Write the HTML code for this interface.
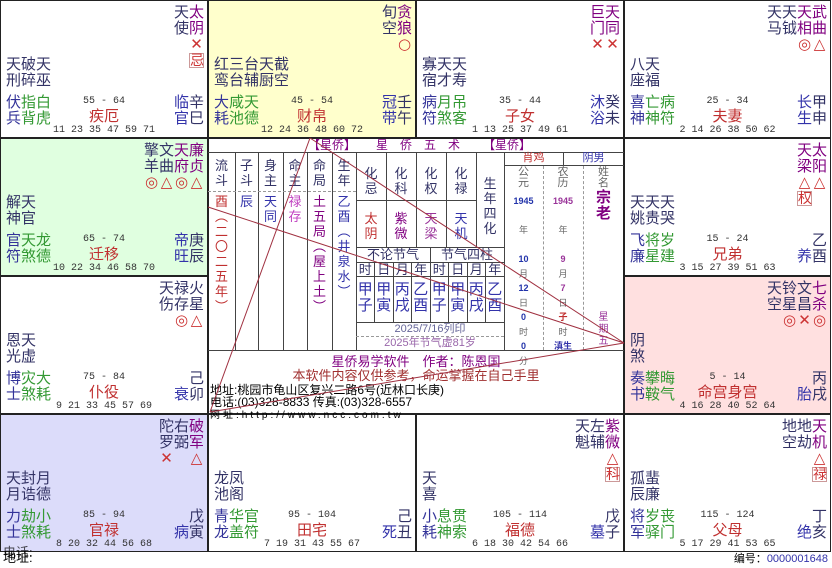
<!DOCTYPE html>
<html><head><meta charset="utf-8">
<style>
*{margin:0;padding:0;box-sizing:border-box}
body{width:832px;height:568px;background:#fff;position:relative;overflow:hidden;font-family:"Liberation Sans","Noto Sans CJK SC",sans-serif;color:#333366}
.cell{position:absolute;width:208px;height:138px;border:1px solid #222;font-size:15px}
.ms{position:absolute;right:3px;top:4px;display:flex;flex-direction:row-reverse;align-items:flex-start}
.k{width:15px;text-align:center;line-height:16px;color:#333366}
.k.p{color:#800080}
.s{color:#cc3333;display:block;font-family:"DejaVu Sans",sans-serif;font-size:15px;line-height:15px;height:15px}
.hb{display:block;border:1px solid #c99;color:#cc3333;background:#fff;line-height:13px;font-size:14px;width:15px;margin-top:1px}
.mn{position:absolute;left:5px;top:56px;line-height:16px;color:#333366}
.bl{position:absolute;left:5px;top:94px;line-height:16px;color:#333399}
.bl g{color:#339933}
.br{position:absolute;right:3px;top:94px;line-height:16px;color:#333366;text-align:right}
.br b{font-weight:normal;color:#3333aa}
.rg{position:absolute;left:0;width:100%;text-align:center;top:96px;font:10px/10px "Liberation Mono",monospace;color:#333}
.pn{position:absolute;left:0;width:100%;text-align:center;top:108px;line-height:16px;color:#c03030}
.ag{position:absolute;left:0;width:100%;text-align:center;top:125px;font:10px/10px "Liberation Mono",monospace;color:#333}
.a{position:absolute}
.vl{position:absolute;width:1px;background:#444}
.hl{position:absolute;height:1px;background:#444}
.vt{position:absolute;text-align:center;line-height:15px;font-size:13px}
.sm{font-size:11px;line-height:13px}
</style></head><body>

<div class="cell" style="left:0;top:0">
<div class="ms"><div class="k p">太<br>阴<span class="s">✕</span><span class="hb">忌</span></div><div class="k">天<br>使</div></div>
<div class="mn">天破天<br>刑碎巫</div>
<div class="bl">伏<g>指白</g><br>兵<g>背虎</g></div>
<div class="br"><b>临</b>辛<br><b>官</b>巳</div>
<div class="rg">55 - 64</div><div class="pn">疾厄</div><div class="ag">11 23 35 47 59 71</div>
</div>
<div class="cell" style="left:208px;top:0;background:#ffffcc">
<div class="ms"><div class="k p">贪<br>狼<span class="s">○</span></div><div class="k">旬<br>空</div></div>
<div class="mn">红三台天截<br>鸾台辅厨空</div>
<div class="bl">大<g>咸天</g><br>耗<g>池德</g></div>
<div class="br"><b>冠</b>壬<br><b>带</b>午</div>
<div class="rg">45 - 54</div><div class="pn">财帛</div><div class="ag">12 24 36 48 60 72</div>
</div>
<div class="cell" style="left:416px;top:0">
<div class="ms"><div class="k p">天<br>同<span class="s">✕</span></div><div class="k p">巨<br>门<span class="s">✕</span></div></div>
<div class="mn">寡天天<br>宿才寿</div>
<div class="bl">病<g>月吊</g><br>符<g>煞客</g></div>
<div class="br"><b>沐</b>癸<br><b>浴</b>未</div>
<div class="rg">35 - 44</div><div class="pn">子女</div><div class="ag">1 13 25 37 49 61</div>
</div>
<div class="cell" style="left:624px;top:0;width:207px">
<div class="ms"><div class="k p">武<br>曲<span class="s">△</span></div><div class="k p">天<br>相<span class="s">◎</span></div><div class="k">天<br>钺</div><div class="k">天<br>马</div></div>
<div class="mn">八天<br>座福</div>
<div class="bl">喜<g>亡病</g><br>神<g>神符</g></div>
<div class="br"><b>长</b>甲<br><b>生</b>申</div>
<div class="rg">25 - 34</div><div class="pn">夫妻</div><div class="ag">2 14 26 38 50 62</div>
</div>

<div class="cell" style="left:0;top:138px;background:#e0ffe0">
<div class="ms"><div class="k p">廉<br>贞<span class="s">△</span></div><div class="k p">天<br>府<span class="s">◎</span></div><div class="k">文<br>曲<span class="s">△</span></div><div class="k">擎<br>羊<span class="s">◎</span></div></div>
<div class="mn">解天<br>神官</div>
<div class="bl">官<g>天龙</g><br>符<g>煞德</g></div>
<div class="br"><b>帝</b>庚<br><b>旺</b>辰</div>
<div class="rg">65 - 74</div><div class="pn">迁移</div><div class="ag">10 22 34 46 58 70</div>
</div>
<div class="cell" style="left:624px;top:138px;width:207px">
<div class="ms"><div class="k p">太<br>阳<span class="s">△</span></div><div class="k p">天<br>梁<span class="s">△</span><span class="hb">权</span></div></div>
<div class="mn">天天天<br>姚贵哭</div>
<div class="bl">飞<g>将岁</g><br>廉<g>星建</g></div>
<div class="br">乙<br><b>养</b>酉</div>
<div class="rg">15 - 24</div><div class="pn">兄弟</div><div class="ag">3 15 27 39 51 63</div>
</div>
<div class="cell" style="left:0;top:276px">
<div class="ms"><div class="k">火<br>星<span class="s">△</span></div><div class="k">禄<br>存<span class="s">◎</span></div><div class="k">天<br>伤</div></div>
<div class="mn">恩天<br>光虚</div>
<div class="bl">博<g>灾大</g><br>士<g>煞耗</g></div>
<div class="br">己<br><b>衰</b>卯</div>
<div class="rg">75 - 84</div><div class="pn">仆役</div><div class="ag">9 21 33 45 57 69</div>
</div>
<div class="cell" style="left:624px;top:276px;width:207px;background:#ffe0e0">
<div class="ms"><div class="k p">七<br>杀<span class="s">◎</span></div><div class="k">文<br>昌<span class="s">✕</span></div><div class="k">铃<br>星<span class="s">◎</span></div><div class="k">天<br>空</div></div>
<div class="mn">阴<br>煞</div>
<div class="bl">奏<g>攀晦</g><br>书<g>鞍气</g></div>
<div class="br">丙<br><b>胎</b>戌</div>
<div class="rg">5 - 14</div><div class="pn">命宫身宫</div><div class="ag">4 16 28 40 52 64</div>
</div>

<div class="cell" style="left:0;top:414px;background:#dcdcfa">
<div class="ms"><div class="k p">破<br>军<span class="s">△</span></div><div class="k">右<br>弼</div><div class="k">陀<br>罗<span class="s">✕</span></div></div>
<div class="mn">天封月<br>月诰德</div>
<div class="bl">力<g>劫小</g><br>士<g>煞耗</g></div>
<div class="br">戊<br><b>病</b>寅</div>
<div class="rg">85 - 94</div><div class="pn">官禄</div><div class="ag">8 20 32 44 56 68</div>
</div>
<div class="cell" style="left:208px;top:414px">
<div class="mn">龙凤<br>池阁</div>
<div class="bl">青<g>华官</g><br>龙<g>盖符</g></div>
<div class="br">己<br><b>死</b>丑</div>
<div class="rg">95 - 104</div><div class="pn">田宅</div><div class="ag">7 19 31 43 55 67</div>
</div>
<div class="cell" style="left:416px;top:414px">
<div class="ms"><div class="k p">紫<br>微<span class="s">△</span><span class="hb">科</span></div><div class="k">左<br>辅</div><div class="k">天<br>魁</div></div>
<div class="mn">天<br>喜</div>
<div class="bl">小<g>息贯</g><br>耗<g>神索</g></div>
<div class="br">戊<br><b>墓</b>子</div>
<div class="rg">105 - 114</div><div class="pn">福德</div><div class="ag">6 18 30 42 54 66</div>
</div>
<div class="cell" style="left:624px;top:414px;width:207px">
<div class="ms"><div class="k p">天<br>机<span class="s">△</span><span class="hb">禄</span></div><div class="k">地<br>劫</div><div class="k">地<br>空</div></div>
<div class="mn">孤蜚<br>辰廉</div>
<div class="bl">将<g>岁丧</g><br>军<g>驿门</g></div>
<div class="br">丁<br><b>绝</b>亥</div>
<div class="rg">115 - 124</div><div class="pn">父母</div><div class="ag">5 17 29 41 53 65</div>
</div>

<div class="a" style="left:208px;top:138px;width:416px;height:276px;border:1px solid #222;background:#fff"></div>
<div class="a" style="left:208px;top:139px;width:416px;height:13px;font-size:12px;line-height:13px;color:#800080">
<span class="a" style="left:100px">【星侨】</span><span class="a" style="left:168px;letter-spacing:12px">星侨五术</span><span class="a" style="left:275px">【星侨】</span></div>
<div class="hl" style="left:208px;top:152px;width:416px"></div>
<div class="vl" style="left:235px;top:152px;height:198px"></div>
<div class="vl" style="left:258px;top:152px;height:198px"></div>
<div class="vl" style="left:283px;top:152px;height:198px"></div>
<div class="vl" style="left:307px;top:152px;height:198px"></div>
<div class="vl" style="left:332px;top:152px;height:198px"></div>
<div class="vl" style="left:356px;top:152px;height:198px"></div>
<div class="a" style="left:208px;top:191px;width:148px;border-top:1px dashed #999"></div>
<div class="vt" style="left:208px;top:158px;width:27px">流<br>斗</div>
<div class="vt" style="left:235px;top:158px;width:23px">子<br>斗</div>
<div class="vt" style="left:258px;top:158px;width:25px">身<br>主</div>
<div class="vt" style="left:283px;top:158px;width:24px">命<br>主</div>
<div class="vt" style="left:307px;top:158px;width:25px">命<br>局</div>
<div class="vt" style="left:332px;top:158px;width:24px">生<br>年</div>
<div class="vt" style="left:208px;top:194px;width:27px;color:#c03030">酉<br>︵<br>二<br>〇<br>二<br>五<br>年<br>︶</div>
<div class="vt" style="left:235px;top:194px;width:23px;color:#3333aa">辰</div>
<div class="vt" style="left:258px;top:194px;width:25px;color:#3333aa">天<br>同</div>
<div class="vt" style="left:283px;top:194px;width:24px;color:#c040c0">禄<br>存</div>
<div class="vt" style="left:307px;top:194px;width:25px;color:#800080">土<br>五<br>局<br>︵<br>屋<br>上<br>土<br>︶</div>
<div class="vt" style="left:332px;top:194px;width:24px;color:#3333aa">乙<br>酉<br>︵<br>井<br>泉<br>水<br>︶</div>
<div class="vl" style="left:386px;top:152px;height:95px"></div>
<div class="vl" style="left:416px;top:152px;height:95px"></div>
<div class="vl" style="left:446px;top:152px;height:95px"></div>
<div class="vl" style="left:476px;top:152px;height:95px"></div>
<div class="vl" style="left:504px;top:152px;height:198px"></div>
<div class="hl" style="left:356px;top:200px;width:120px"></div>
<div class="hl" style="left:356px;top:247px;width:148px"></div>
<div class="vt" style="left:356px;top:166px;width:30px">化<br>忌</div>
<div class="vt" style="left:386px;top:166px;width:30px">化<br>科</div>
<div class="vt" style="left:416px;top:166px;width:30px">化<br>权</div>
<div class="vt" style="left:446px;top:166px;width:30px">化<br>禄</div>
<div class="vt" style="left:476px;top:176px;width:28px">生<br>年<br>四<br>化</div>
<div class="vt" style="left:356px;top:211px;width:30px;color:#c03030">太<br>阴</div>
<div class="vt" style="left:386px;top:211px;width:30px;color:#800080">紫<br>微</div>
<div class="vt" style="left:416px;top:211px;width:30px;color:#993399">天<br>梁</div>
<div class="vt" style="left:446px;top:211px;width:30px;color:#3333aa">天<br>机</div>
<div class="a" style="left:356px;top:248px;width:74px;text-align:center;font-size:13px;line-height:14px">不论节气</div>
<div class="a" style="left:430px;top:248px;width:74px;text-align:center;font-size:13px;line-height:14px">节气四柱</div>
<div class="vl" style="left:430px;top:247px;height:75px"></div>
<div class="hl" style="left:356px;top:262px;width:148px"></div>
<div class="hl" style="left:356px;top:276px;width:148px"></div>
<div class="hl" style="left:356px;top:322px;width:148px"></div>
<div class="vl" style="left:374px;top:262px;height:60px"></div>
<div class="vl" style="left:393px;top:262px;height:60px"></div>
<div class="vl" style="left:411px;top:262px;height:60px"></div>
<div class="vl" style="left:448px;top:262px;height:60px"></div>
<div class="vl" style="left:467px;top:262px;height:60px"></div>
<div class="vl" style="left:485px;top:262px;height:60px"></div>
<div class="a" style="left:356px;top:263px;width:148px;display:flex;font-size:13px;line-height:13px;text-align:center"><span style="width:18.5px">时</span><span style="width:18.5px">日</span><span style="width:18.5px">月</span><span style="width:18.5px">年</span><span style="width:18.5px">时</span><span style="width:18.5px">日</span><span style="width:18.5px">月</span><span style="width:18.5px">年</span></div>
<div class="a" style="left:356px;top:282px;width:148px;display:flex;font-size:15px;line-height:16px;text-align:center;color:#3333aa"><span style="width:18.5px">甲<br>子</span><span style="width:18.5px">甲<br>寅</span><span style="width:18.5px">丙<br>戌</span><span style="width:18.5px">乙<br>酉</span><span style="width:18.5px">甲<br>子</span><span style="width:18.5px">甲<br>寅</span><span style="width:18.5px">丙<br>戌</span><span style="width:18.5px">乙<br>酉</span></div>
<div class="a" style="left:356px;top:323px;width:148px;text-align:center;font-size:11px;line-height:13px;color:#666699">2025/7/16列印</div>
<div class="a" style="left:356px;top:336px;width:148px;border-top:1px dashed #999"></div>
<div class="a" style="left:356px;top:337px;width:148px;text-align:center;font-size:11px;line-height:13px;color:#9966aa">2025年节气虚81岁</div>
<div class="hl" style="left:208px;top:350px;width:416px"></div>
<div class="hl" style="left:504px;top:165px;width:120px"></div>
<div class="vl" style="left:563px;top:152px;height:13px"></div>
<div class="a sm" style="left:504px;top:152px;width:59px;text-align:center;color:#c03030">肖鸡</div>
<div class="a sm" style="left:563px;top:152px;width:61px;text-align:center;color:#3333aa">阴男</div>
<div class="a" style="left:543px;top:166px;height:184px;border-left:1px dashed #999"></div>
<div class="a" style="left:583px;top:166px;height:184px;border-left:1px dashed #999"></div>
<div class="vt sm" style="left:504px;top:167px;width:39px;color:#666;line-height:11px">公<br>元</div>
<div class="vt sm" style="left:543px;top:167px;width:40px;color:#666;line-height:11px">农<br>历</div>
<div class="vt sm" style="left:583px;top:167px;width:41px;color:#666;line-height:11px">姓<br>名</div>
<div class="vt" style="left:583px;top:190px;width:41px;color:#800080;font-size:15px;font-weight:bold;line-height:16px">宗<br>老</div>
<div class="a" style="left:504px;top:194px;width:39px;text-align:center;font-size:9px;line-height:14.5px;color:#666">
<b style="color:#2233aa">1945</b><br><br>年<br><br><b style="color:#2233aa">10</b><br>月<br><b style="color:#2233aa">12</b><br>日<br><b style="color:#2233aa">0</b><br>时<br><b style="color:#2233aa">0</b><br>分</div>
<div class="a" style="left:543px;top:194px;width:40px;text-align:center;font-size:9px;line-height:14.5px;color:#666">
<b style="color:#993399">1945</b><br><br>年<br><br><b style="color:#993399">9</b><br>月<br><b style="color:#993399">7</b><br>日<br><b style="color:#c03030">子</b><br>时<br><b style="color:#3333aa">滇生</b><br></div>
<div class="vt sm" style="left:583px;top:312px;width:41px;color:#993399;line-height:12px;font-size:10px">星<br>期<br>五</div>
<div class="a" style="left:208px;top:355px;width:416px;text-align:center;font-size:13px;line-height:14px;color:#800080">星侨易学软件　作者：陈恩国</div>
<div class="a" style="left:208px;top:369px;width:416px;text-align:center;font-size:13px;line-height:14px;color:#a03030">本软件内容仅供参考，命运掌握在自己手里</div>
<div class="a" style="left:210px;top:384px;font-size:12px;line-height:12px;color:#000">地址:桃园市龟山区复兴二路6号(近林口长庚)<br>电话:(03)328-8833 传真:(03)328-6557<br><span style="font-size:10px;letter-spacing:3px">网址:http://www.ncc.com.tw</span></div>

<svg class="a" style="left:0;top:0" width="832" height="568"><g stroke="#a03040" stroke-width="1" fill="none">
<line x1="624" y1="343" x2="310" y2="138"/><line x1="310" y1="138" x2="210" y2="412"/><line x1="210" y1="412" x2="624" y2="343"/><line x1="208" y1="207" x2="624" y2="343"/></g></svg>

<div class="a" style="left:3px;top:551px;font-size:13px;line-height:13px;color:#000">地址:</div>
<div class="a" style="left:3px;top:546px;font-size:13px;line-height:13px;color:#000;opacity:.7">电话:</div>
<div class="a" style="right:4px;top:553px;font-size:11px;line-height:12px;color:#000">编号：<span style="color:#3333aa">0000001648</span></div>
</body></html>
